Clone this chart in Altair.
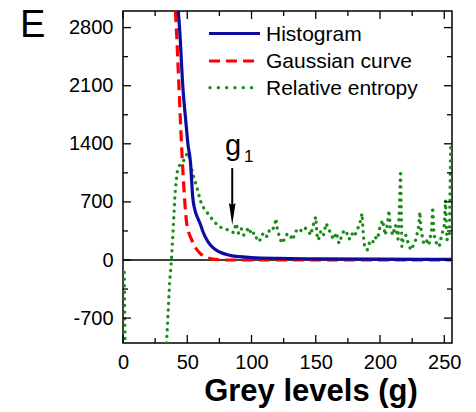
import altair as alt
import pandas as pd

# ---------------- data ----------------
hist_g = [42, 43, 44, 46.5, 49, 50.5, 52.5, 54.3, 56, 58, 60, 62, 65, 68, 72, 76, 80, 85, 90, 100, 120, 150, 200, 256]
hist_v = [3200, 3000, 2800, 2100, 1650, 1400, 1180, 750, 600, 510, 440, 350, 250, 180, 125, 90, 70, 50, 40, 30, 20, 14, 10, 8]

gauss_g = [40, 41.5, 43.5, 45.5, 46.7, 48, 49.5, 51, 53, 56, 60, 65, 70, 75, 80, 256]
gauss_v = [3200, 2800, 2100, 1400, 1050, 720, 450, 340, 260, 160, 80, 30, 10, 3, 0, 0]

ent_g = [1, 2, 32, 34, 36.4, 37.7, 39, 40.5, 42, 44, 46, 48, 50, 51.5, 53, 55, 58, 60, 63, 67, 71, 75, 80, 83,
         86, 88, 90, 92, 94, 96, 98, 100, 102, 104, 106, 108, 110, 112, 114, 116, 118, 119, 120, 122, 124,
         126, 128, 130, 132, 134, 136, 138, 140, 142, 144, 146, 148, 150, 151, 152, 154, 156, 158, 160, 162,
         164, 166, 168, 170, 172, 174, 176, 178, 180, 182, 184, 186, 187, 188, 190, 192, 194, 196, 198, 200,
         202, 204, 206, 207, 208, 210, 212, 214, 215, 216, 217, 218, 220, 222, 224, 226, 228, 230, 231, 232,
         234, 236, 238, 240, 241, 242, 244, 246, 248, 250, 251, 252, 254, 255]
ent_v = [-150, -1500, -1400, -960, -240, 0, 360, 800, 1050, 1140, 1180, 1210, 1290, 1250, 1120, 1000, 850, 720, 620, 540, 460, 400, 370, 360,
         330, 440, 320, 380, 300, 350, 390, 300, 330, 260, 220, 300, 330, 280, 360, 350, 420, 500, 380, 260, 200,
         270, 320, 300, 240, 330, 380, 360, 340, 380, 360, 300, 420, 520, 300, 240, 350, 300, 440, 380, 300,
         250, 330, 200, 280, 360, 330, 250, 320, 280, 360, 420, 560, 300, 160, 120, 220, 200, 280, 250, 400,
         480, 300, 450, 600, 380, 300, 420, 250, 600, 1080, 160, 250, 300, 200, 120, 180, 250, 400, 580, 350,
         200, 240, 180, 350, 640, 300, 200, 160, 300, 420, 720, 240, 300, 1400]

x_major = [0, 50, 100, 150, 200, 250]
x_minor = [25, 75, 125, 175, 225]
y_major = [-700, 0, 700, 1400, 2100, 2800]
y_minor = [-350, 350, 1050, 1750, 2450]

series_names = ["Histogram", "Gaussian curve", "Relative entropy"]
arrow_g = [85]
arrow_top = [1107]
arrow_base = [620]
arrow_head = [553]

# ---------------- styling ----------------
W, H = 329, 332
FONT = "Liberation Sans"
BLUE = "#0c0ca0"
RED = "#ff0000"
GREEN = "#1a8c1a"
DOT = [0.1, 6.5]
DASH = [11, 6]

xs = alt.Scale(domain=[0, 256], nice=False, zero=False)
ys = alt.Scale(domain=[-1000, 3000], nice=False, zero=False)
xax = alt.Axis(values=x_major, title=None, labelPadding=9, labelFlush=False, labelExpr="datum.value + ''")
yax = alt.Axis(values=y_major, title=None, labelPadding=10, labelExpr="datum.value + ''")


def X(field="g"):
    return alt.X(f"{field}:Q", scale=xs, axis=xax)


def Y(field="v"):
    return alt.Y(f"{field}:Q", scale=ys, axis=yax)


hist = pd.DataFrame({"g": hist_g, "v": hist_v})
gauss = pd.DataFrame({"g": gauss_g, "v": gauss_v})
ent = pd.DataFrame({"g": ent_g, "v": ent_v})
one = pd.DataFrame({"a": [0]})

zero = alt.Chart(one).mark_rule(color="black", strokeWidth=1.3).encode(
    y=alt.Y("z:Q", scale=ys, axis=yax), x=alt.value(0), x2=alt.value(W)
).transform_calculate(z="0")

l_ent = alt.Chart(ent).mark_line(clip=True, color=GREEN, strokeWidth=3.3, strokeDash=DOT,
                                 strokeCap="round").encode(x=X(), y=Y())
l_gauss = alt.Chart(gauss).mark_line(clip=True, color=RED, strokeWidth=3.2, strokeDash=DASH,
                                     interpolate="monotone").encode(x=X(), y=Y())
l_hist = alt.Chart(hist).mark_line(clip=True, color=BLUE, strokeWidth=3.2,
                                   interpolate="monotone").encode(x=X(), y=Y())


# inward ticks on all four sides
def xticks(vals, length):
    df = pd.DataFrame({"g": vals})
    bot = alt.Chart(df).mark_rule(color="black", strokeWidth=1.3).encode(
        x=X(), y=alt.value(H), y2=alt.value(H - length))
    top = alt.Chart(df).mark_rule(color="black", strokeWidth=1.3).encode(
        x=X(), y=alt.value(0), y2=alt.value(length))
    return [bot, top]


def yticks(vals, length):
    df = pd.DataFrame({"v": vals})
    left = alt.Chart(df).mark_rule(color="black", strokeWidth=1.3).encode(
        y=Y(), x=alt.value(0), x2=alt.value(length))
    right = alt.Chart(df).mark_rule(color="black", strokeWidth=1.3).encode(
        y=Y(), x=alt.value(W), x2=alt.value(W - length))
    return [left, right]


ticks = xticks(x_major, 8) + xticks(x_minor, 5) + yticks(y_major, 8) + yticks(y_minor, 5)

# arrow annotation
adf = pd.DataFrame({"g": arrow_g, "top": arrow_top, "base": arrow_base, "head": arrow_head})
a_line = alt.Chart(adf).mark_rule(color="black", strokeWidth=2).encode(
    x=X(), y=Y("top"), y2="base:Q")
a_head = alt.Chart(adf).mark_point(shape="M -0.3 -1 L 0 -0.8 L 0.3 -1 L 0 1 Z", filled=True,
                                   size=484, color="black", opacity=1).encode(x=X(), y=Y("head"))


def txt(s, x, y, size, bold=False, align="left", baseline="alphabetic"):
    return alt.Chart(one).mark_text(text=s, font=FONT, fontSize=size, align=align, baseline=baseline,
                                    fontWeight="bold" if bold else "normal", color="black").encode(
        x=alt.value(x), y=alt.value(y))


g1 = txt("g", 102, 144, 29)
g1sub = txt("1", 121, 151, 17)
label_e = txt("E", -103, 26, 38)
xtitle = txt("Grey levels (g)", 188, 390, 31, bold=True, align="center")

# legend (inside top right)
leg_y = [22.5, 50, 76.7]
leg_lines = [
    alt.Chart(one).mark_rule(color=BLUE, strokeWidth=3.2).encode(
        x=alt.value(86), x2=alt.value(137), y=alt.value(leg_y[0])),
    alt.Chart(one).mark_rule(color=RED, strokeWidth=3.2, strokeDash=DASH).encode(
        x=alt.value(86), x2=alt.value(137), y=alt.value(leg_y[1])),
    alt.Chart(one).mark_rule(color=GREEN, strokeWidth=3.3, strokeDash=[0.1, 8.2], strokeCap="round").encode(
        x=alt.value(87), x2=alt.value(130), y=alt.value(leg_y[2])),
]
leg_text = [txt(n, 143, y + 1, 21, baseline="middle") for n, y in zip(series_names, leg_y)]

chart = alt.layer(
    zero, l_ent, l_gauss, l_hist, *ticks, a_line, a_head, g1, g1sub, label_e, xtitle,
    *leg_lines, *leg_text
).properties(
    width=W, height=H,
    padding={"left": 123, "top": 11, "right": 24, "bottom": 69},
    autosize=alt.AutoSizeParams(type="none"),
    background="white",
).configure_view(
    stroke="black", strokeWidth=1.5
).configure_axis(
    grid=False, domain=False, ticks=False, labelFont=FONT, labelFontSize=20, labelColor="black"
)

chart.save("out.html", embed_options={"renderer": "svg", "actions": False})
